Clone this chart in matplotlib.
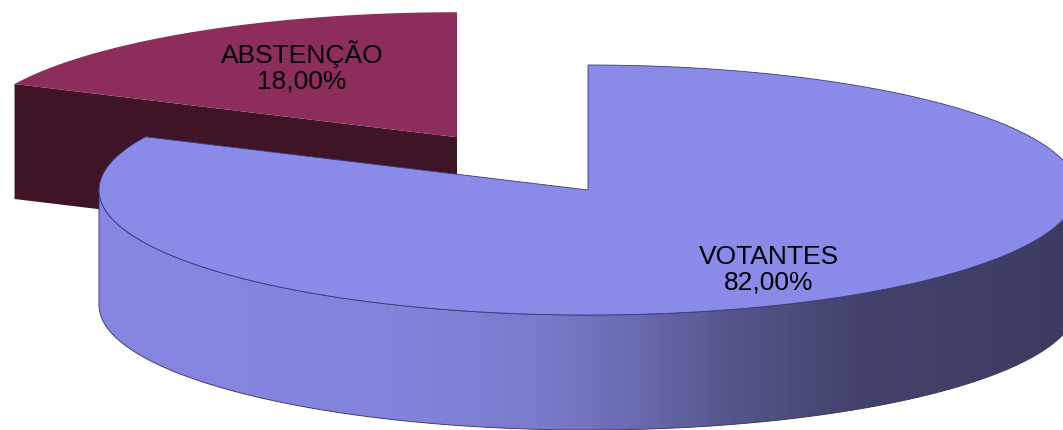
import numpy as np
import matplotlib.pyplot as plt
from matplotlib.patches import Polygon
from matplotlib.colors import LinearSegmentedColormap

labels = ['ABSTENÇÃO', 'VOTANTES']
values = [18.0, 82.0]
pct_text = ['18,00%', '82,00%']
top_colors = ['#8c2d5b', '#8a8ae9']
side_colors = ['#3f1426', '#3e3e66']
explode = [0.5, 0.0]

W, H = 1063, 430
fig = plt.figure(figsize=(W / 100, H / 100), dpi=100)
ax = fig.add_axes([0, 0, 1, 1])
ax.set_xlim(0, W)
ax.set_ylim(H, 0)
ax.axis('off')

cx, cy = 588, 190      # centre of the top ellipse
rx, ry = 489, 125      # ellipse radii
depth = 115            # thickness of the pie
start = 90.0

side_cmap = LinearSegmentedColormap.from_list(
    'side', [(0.0, '#8787e3'), (0.3, '#8383dc'), (0.45, '#7b7bcc'),
             (0.55, '#6a6ab0'), (0.65, '#55558a'), (0.78, '#42426c'),
             (1.0, '#3c3c62')])


def pt(c, t, dz=0.0):
    return (c[0] + rx * np.cos(t), c[1] - ry * np.sin(t) + dz)


total = sum(values)
a0 = np.deg2rad(start)
for i, v in enumerate(values):
    span = 2 * np.pi * v / total
    t1, t2 = a0, a0 + span
    a0 = t2
    mid = (t1 + t2) / 2
    c = (cx + explode[i] * rx * np.cos(mid), cy - explode[i] * ry * np.sin(mid))

    # radial faces turned towards the viewer
    for t, nrm in [(t1, t1 - np.pi / 2), (t2, t2 + np.pi / 2)]:
        if np.sin(nrm) < -1e-6:
            p = pt(c, t)
            face = [c, p, (p[0], p[1] + depth), (c[0], c[1] + depth)]
            ax.add_patch(Polygon(face, closed=True, fc=side_colors[i], ec='none', zorder=2 * i + 1))

    # outer curved side (front half only)
    lo = max(t1, np.pi)
    hi = min(t2, 2 * np.pi)
    if hi > lo:
        ts = np.linspace(lo, hi, 200)
        top = [pt(c, t) for t in ts]
        bot = [pt(c, t, depth) for t in ts[::-1]]
        side = Polygon(top + bot, closed=True, fc='none', ec='#2e2e5e', lw=0.6, zorder=2 * i + 1.5)
        ax.add_patch(side)
        grad = np.linspace(0, 1, 256).reshape(1, -1)
        im = ax.imshow(grad, cmap=side_cmap if i == 1 else None, aspect='auto',
                       extent=[c[0] - rx, c[0] + rx, c[1] + ry + depth, c[1] - ry],
                       zorder=2 * i + 1.2)
        im.set_clip_path(side)

    # top face
    ts = np.linspace(t1, t2, 300)
    wedge = [c] + [pt(c, t) for t in ts]
    ax.add_patch(Polygon(wedge, closed=True, fc=top_colors[i],
                         ec='#3a3a7a' if i == 1 else 'none', lw=0.6, zorder=2 * i + 2))

# labels
ax.text(302, 67, labels[0] + '\n' + pct_text[0], ha='center', va='center',
        fontsize=19, family='Liberation Sans', linespacing=1.1, zorder=10)
ax.text(769, 270, labels[1] + '\n' + pct_text[1], ha='center', va='center',
        fontsize=19, family='Liberation Sans', linespacing=1.1, zorder=10)

fig.savefig('out.png', dpi=100)
